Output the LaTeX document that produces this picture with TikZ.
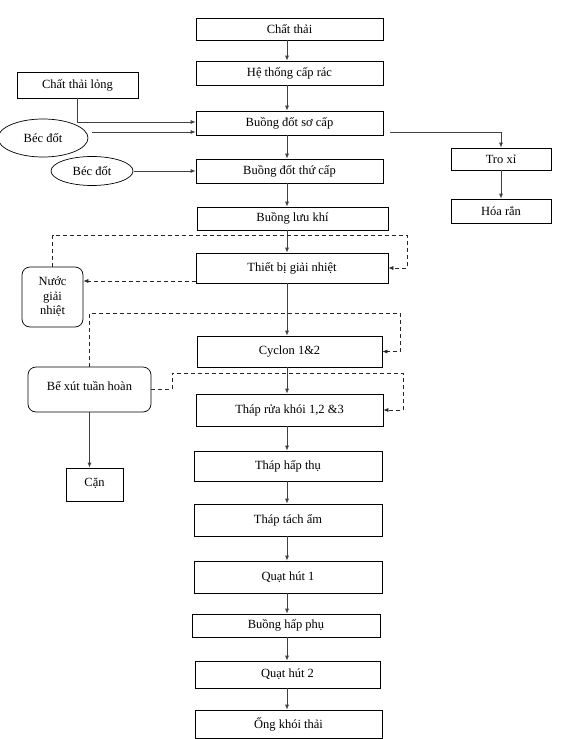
\documentclass[tikz,border=0pt]{standalone}
\usepackage{fontspec}
\setmainfont{Liberation Serif}
\usetikzlibrary{arrows.meta,shapes.geometric}
\begin{document}
\begin{tikzpicture}[x=1pt,y=-1pt,
  box/.style={draw=black,line width=0.7pt,rectangle,inner sep=0pt,font=\fontsize{12.5}{14.5}\selectfont},
  rbox/.style={box,rounded corners=8pt},
  oval/.style={draw=black,line width=0.7pt,ellipse,inner sep=0pt,font=\fontsize{12.5}{14.5}\selectfont},
  arr/.style={draw=black!75,line width=0.8pt,-{Latex[length=5pt,width=4pt]}},
  darr/.style={draw=black!85,line width=0.7pt,dash pattern=on 4pt off 3pt,-{Latex[length=5pt,width=4pt]}},
  dline/.style={draw=black!85,line width=0.7pt,dash pattern=on 4pt off 3pt}]
\useasboundingbox (0,0) rectangle (563,739);
\fill[white] (0,0) rectangle (563,739);
% main column
\node[box,minimum width=187pt,minimum height=22pt] (ct) at (289.5,29) {Chất thải};
\node[box,minimum width=187pt,minimum height=24pt] (ht) at (289.5,73) {Hệ thống cấp rác};
\node[box,minimum width=187pt,minimum height=24pt] (bs) at (289.5,123) {Buồng đốt sơ cấp};
\node[box,minimum width=187pt,minimum height=24pt] (bt) at (289.5,171) {Buồng đốt thứ cấp};
\node[box,minimum width=191pt,minimum height=23pt] (bl) at (292.5,218.5) {Buồng lưu khí};
\node[box,minimum width=192pt,minimum height=30pt] (tb) at (292,268) {Thiết bị giải nhiệt};
\node[box,minimum width=185pt,minimum height=31pt] (cy) at (289.5,351.5) {Cyclon 1\&2};
\node[box,minimum width=187pt,minimum height=32pt] (tr) at (289.5,410) {Tháp rửa khói 1,2 \&3};
\node[box,minimum width=188pt,minimum height=30pt] (th) at (288,466) {Tháp hấp thụ};
\node[box,minimum width=188pt,minimum height=32pt] (ta) at (288,520) {Tháp tách ẩm};
\node[box,minimum width=188pt,minimum height=32pt] (q1) at (288,577) {Quạt hút 1};
\node[box,minimum width=188pt,minimum height=23pt] (bh) at (286,625.5) {Buồng hấp phụ};
\node[box,minimum width=185pt,minimum height=27pt] (q2) at (287.5,674.5) {Quạt hút 2};
\node[box,minimum width=187pt,minimum height=28pt] (ok) at (288.5,724) {Ống khói thải};
\coordinate (axis) at (287,0);
% left side
\node[box,minimum width=121pt,minimum height=26pt] (cl) at (77.5,85) {Chất thải lỏng};
\node[oval,minimum width=90pt,minimum height=38pt] (be1) at (43,138) {Béc đốt};
\node[oval,minimum width=82pt,minimum height=29pt] (be2) at (92,171) {Béc đốt};
\node[rbox,minimum width=61pt,minimum height=60pt,align=center] (nuoc) at (52.5,297) {Nước\\giải\\nhiệt};
\node[rbox,minimum width=123pt,minimum height=45pt] (bx) at (89.5,389.5) {\raisebox{7pt}{Bể xút tuần hoàn}};
\node[box,minimum width=57pt,minimum height=33pt] (can) at (94.5,484.5) {\raisebox{5pt}{Cặn}};
% right side
\node[box,minimum width=100pt,minimum height=22pt] (tx) at (501,159) {Tro xỉ};
\node[box,minimum width=100pt,minimum height=24pt] (hr) at (501,211) {Hóa rắn};
% main arrows
\foreach \a/\b in {ct/ht,ht/bs,bs/bt,bt/bl,bl/tb,tb/cy,cy/tr,tr/th,th/ta,ta/q1,q1/bh,bh/q2,q2/ok}
  \draw[arr] (\a.south -| axis) -- (\b.north -| axis);
% left inputs
\draw[arr] (cl.south) |- ([yshift=1pt]bs.west);
\draw[arr] ([xshift=4pt,yshift=-9pt]be1.east |- bs.west) -- ([yshift=-9pt]bs.west);
\draw[arr] ([xshift=1pt]be2.east) -- (be2.east -| bt.west);
% ash
\draw[arr] ([xshift=7pt,yshift=-9pt]bs.east) -| (tx.north);
\draw[arr] (tx.south) -- (hr.north);
% cooling water loop
\coordinate (d1) at (407,235);
\draw[darr] (nuoc.north) |- (d1) |- (tb.east);
\draw[darr] ([yshift=-13pt]tb.west) -- ([yshift=-13pt]tb.west -| nuoc.east);
% caustic loop
\coordinate (d2) at (400,313);
\draw[darr] (bx.north) |- (d2) |- (cy.east);
\coordinate (d3a) at (172,373);
\coordinate (d3b) at (403,373);
\draw[darr] (bx.east) -| (d3a) -- (d3b) |- (tr.east);
\draw[arr] (bx.south) -- (bx.south |- can.north);
\end{tikzpicture}
\end{document}
